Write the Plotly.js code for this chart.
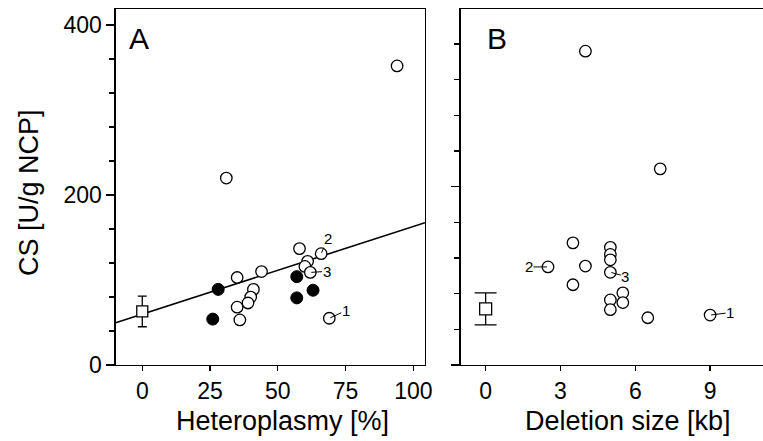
<!DOCTYPE html>
<html>
<head>
<meta charset="utf-8">
<script src="https://cdn.plot.ly/plotly-3.0.1.min.js"></script>
<style>html,body{margin:0;padding:0;background:#fff;}#chart{width:763px;height:441px;}</style>
</head>
<body>
<div id="chart"></div>
<script>
// ---- Data ----
// Panel A: CS vs heteroplasmy
const hetOpen   = [94, 31, 58, 66, 61, 60, 62, 44, 35, 41, 40, 39, 35, 36, 69];
const csOpenA   = [352, 220, 137, 131, 122, 116, 109, 110, 103, 89, 80, 73, 68, 53, 55];
const hetFilled = [28, 26, 57, 57, 63];
const csFilledA = [89, 54, 104, 79, 88];
// regression line endpoints
const fitX = [-9.8, 104.3];
const fitY = [49.8, 167.5];
// Control (mean ± SD)
const ctrlX = [0];
const ctrlCS = [63];
const ctrlSD = [18];
// Panel B: CS vs deletion size
const delSize = [4, 7, 3.5, 2.5, 4, 3.5, 5, 5, 5, 5, 5, 5, 5.5, 5.5, 6.5, 9];
const csB     = [352, 220, 137, 110, 111, 90, 132, 124, 118, 104, 73, 62, 81, 70, 53, 56];
// Labelled patients
const labelsA = [{t:'1', x:69, y:55}, {t:'2', x:66, y:131}, {t:'3', x:62, y:109}];
const labelsB = [{t:'1', x:9, y:56}, {t:'2', x:2.5, y:110}, {t:'3', x:5, y:104}];
const xTicksA = [0, 25, 50, 75, 100];
const xTicksB = [0, 3, 6, 9];
const yTicks  = [0, 200, 400];

// ---- Layout helpers ----
const W = 763, H = 441;
const px = v => v / W;           // pixel x -> paper
const py = v => (H - v) / H;     // pixel y (from top) -> paper
const FONT = 'Liberation Sans, Arial, Helvetica, sans-serif';
const LW = 1.3;

const openMarker = {symbol: 'circle', size: 11.5, color: '#fff', line: {color: '#000', width: 1.3}};

const traces = [
  {x: fitX, y: fitY, mode: 'lines', line: {color: '#000', width: 1.6}, xaxis: 'x', yaxis: 'y', hoverinfo: 'skip'},
  {x: hetOpen, y: csOpenA, mode: 'markers', marker: openMarker, xaxis: 'x', yaxis: 'y'},
  {x: hetFilled, y: csFilledA, mode: 'markers', marker: {symbol: 'circle', size: 12, color: '#000', line: {color: '#000', width: 1}}, xaxis: 'x', yaxis: 'y'},
  {x: ctrlX, y: ctrlCS, mode: 'markers', marker: {symbol: 'square', size: 11, color: '#fff', line: {color: '#000', width: 1.3}},
   error_y: {type: 'data', array: ctrlSD, visible: true, color: '#000', thickness: 1.3, width: 4.5}, xaxis: 'x', yaxis: 'y'},
  {x: delSize, y: csB, mode: 'markers', marker: openMarker, xaxis: 'x2', yaxis: 'y2'},
  {x: ctrlX, y: ctrlCS, mode: 'markers', marker: {symbol: 'square', size: 12, color: '#fff', line: {color: '#000', width: 1.3}},
   error_y: {type: 'data', array: ctrlSD, visible: true, color: '#000', thickness: 1.3, width: 11}, xaxis: 'x2', yaxis: 'y2'}
];

const axBase = {
  showline: true, linecolor: '#000', linewidth: LW, showgrid: false, zeroline: false,
  ticks: 'outside', tickcolor: '#000', tickwidth: LW, ticklabeloverflow: 'allow',
  tickfont: {family: FONT, size: 23, color: '#000'}
};

const offA = {'1': [16.4, -7.6], '2': [6.4, -15], '3': [16.3, -1]};
const offB = {'1': [20, -2.5], '2': [-19, 0], '3': [15, 4]};
const annots = [];
labelsA.forEach(l => annots.push({x: l.x, y: l.y, xref: 'x', yref: 'y', text: l.t, showarrow: true, arrowhead: 0, arrowwidth: 1, arrowcolor: '#000',
  ax: offA[l.t][0], ay: offA[l.t][1], standoff: 1, borderpad: 0, font: {family: FONT, size: 15, color: '#000'}}));
labelsB.forEach(l => annots.push({x: l.x, y: l.y, xref: 'x2', yref: 'y2', text: l.t, showarrow: true, arrowhead: 0, arrowwidth: 1, arrowcolor: '#000',
  ax: offB[l.t][0], ay: offB[l.t][1], standoff: 1, borderpad: 0, font: {family: FONT, size: 15, color: '#000'}}));
const txt = (x, y, t, size, extra) => Object.assign({xref: 'paper', yref: 'paper', x: px(x), y: py(y), text: t, showarrow: false,
  xanchor: 'center', yanchor: 'middle', font: {family: FONT, size: size, color: '#000'}}, extra || {});
annots.push(txt(139, 39, 'A', 30));
annots.push(txt(497, 39, 'B', 30));
annots.push(txt(282, 421, 'Heteroplasmy [%]', 27));
annots.push(txt(628, 421, 'Deletion size [kb]', 27));
annots.push(txt(29, 193, 'CS [U/g NCP]', 27, {textangle: -90}));

const layout = {
  width: W, height: H, margin: {l: 0, r: 0, t: 0, b: 0},
  paper_bgcolor: '#fff', plot_bgcolor: '#fff', showlegend: false,
  xaxis: Object.assign({}, axBase, {domain: [px(115.7), px(425)], range: [-9.8, 104.3], tickmode: 'array', tickvals: xTicksA, ticktext: xTicksA.map(String), ticklen: 5, mirror: true, anchor: 'y'}),
  yaxis: Object.assign({}, axBase, {domain: [py(365), py(9)], range: [0, 419], tickmode: 'array', tickvals: yTicks, ticktext: yTicks.map(String), ticklen: 8, mirror: true, anchor: 'x',
    minor: {tickmode: 'linear', tick0: 0, dtick: 40, ticklen: 5, tickcolor: '#000', tickwidth: LW, ticks: 'outside'}}),
  xaxis2: Object.assign({}, axBase, {domain: [px(460.7), 1], range: [-1.0, 11.12], tickmode: 'array', tickvals: xTicksB, ticktext: xTicksB.map(String), ticklen: 5, mirror: true, anchor: 'y2'}),
  yaxis2: Object.assign({}, axBase, {domain: [py(365), py(9)], range: [0, 399.3], tick0: 0, dtick: 200, ticklen: 8, showticklabels: false, anchor: 'x2',
    minor: {dtick: 40, ticklen: 5, tickcolor: '#000', tickwidth: LW, ticks: 'outside'}}),
  annotations: annots,
  shapes: [
    {type: 'line', xref: 'paper', yref: 'paper', x0: px(107), x1: px(115.7), y0: py(365), y1: py(365), line: {color: '#000', width: LW}},
    {type: 'line', xref: 'paper', yref: 'paper', x0: px(452), x1: px(460.7), y0: py(365), y1: py(365), line: {color: '#000', width: LW}}
  ]
};

Plotly.newPlot('chart', traces, layout, {staticPlot: true, displayModeBar: false});
</script>
</body>
</html>
